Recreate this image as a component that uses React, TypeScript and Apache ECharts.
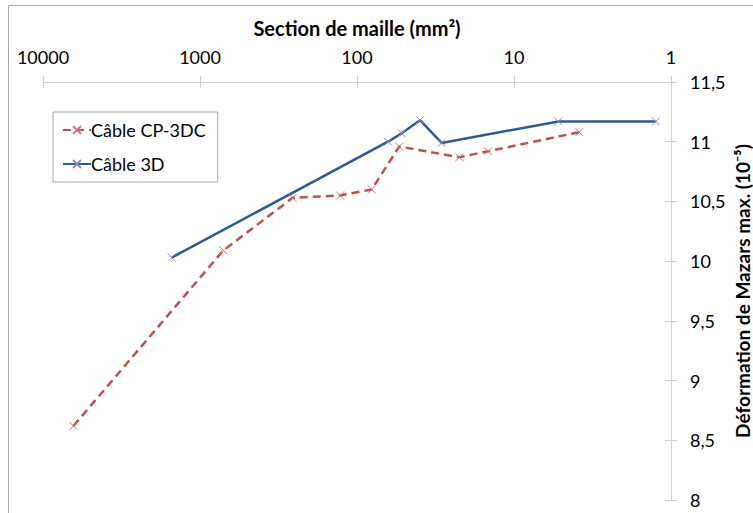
import React, { useEffect, useRef } from "react";
import * as echarts from "echarts";

const xTickLabels = ["10000", "1000", "100", "10", "1"];
const yTicks = [8, 8.5, 9, 9.5, 10, 10.5, 11, 11.5];

const xTitle = "Section de maille (mm²)";
const yTitle = "Déformation de Mazars max. (10⁻⁵)";
const seriesNames = ["Câble CP-3DC", "Câble 3D"];
const cp3dcX = [6400, 710, 257, 128, 80.6, 53.8, 22.3, 14.6, 3.84];
const cp3dcY = [8.62, 10.09, 10.53, 10.55, 10.6, 10.96, 10.87, 10.92, 11.08];
const c3dX = [1514, 63.5, 51.9, 39.7, 28.9, 5.22, 1.25];
const c3dY = [10.03, 11.0, 11.07, 11.18, 10.99, 11.17, 11.17];

const FONT = "Lato";
const X_SYMBOL = "path://M0,0L10,10M10,0L0,10";

export default function App() {
  const ref = useRef<HTMLDivElement>(null);
  useEffect(() => {
    document.body.style.margin = "0";
    const chart = echarts.init(ref.current!, undefined, { renderer: "svg" });
    const axisCommonX = {
      type: "log" as const,
      logBase: 10,
      min: 1,
      max: 10000,
      inverse: true,
      position: "top" as const,
      splitLine: { show: false },
      minorTick: { show: false },
    };
    const axisCommonY = {
      type: "value" as const,
      min: yTicks[0],
      max: yTicks[yTicks.length - 1],
      interval: 0.5,
      position: "right" as const,
      splitLine: { show: false },
    };
    chart.setOption({
      animation: false,
      backgroundColor: "#ffffff",
      textStyle: { fontFamily: FONT },
      graphic: [
        { type: "line", shape: { x1: 8.5, y1: 5.5, x2: 753, y2: 5.5 }, style: { stroke: "#a6a6a6", lineWidth: 1 } },
        { type: "line", shape: { x1: 8.5, y1: 5.5, x2: 8.5, y2: 513 }, style: { stroke: "#a6a6a6", lineWidth: 1 } },
        {
          type: "text",
          x: 742,
          y: 291,
          rotation: Math.PI / 2,
          style: {
            text: yTitle,
            fontFamily: FONT,
            fontSize: 19,
            fontWeight: "bold",
            fill: "#000",
            align: "center",
            verticalAlign: "middle",
          },
        },
      ],
      grid: { left: 43, right: 82, top: 82, bottom: 13, containLabel: false, outerBoundsMode: "none" },
      xAxis: [
        {
          ...axisCommonX,
          name: xTitle,
          nameLocation: "middle",
          nameGap: 44,
          nameTextStyle: { fontFamily: FONT, fontSize: 20, fontWeight: "bold", color: "#000" },
          axisLine: { show: true, lineStyle: { color: "#d0d0d0", width: 1 } },
          axisTick: { show: true, inside: false, length: 6, lineStyle: { color: "#d0d0d0" } },
          axisLabel: {
            show: true,
            margin: 16,
            fontFamily: FONT,
            fontSize: 18,
            color: "#000",
            formatter: (v: number) => {
              const idx = [10000, 1000, 100, 10, 1].findIndex((t) => Math.abs(t - v) < 1e-6 * t);
              return idx >= 0 ? xTickLabels[idx] : "";
            },
          },
        },
        {
          ...axisCommonX,
          axisLine: { show: false },
          axisTick: { show: true, inside: true, length: 6, lineStyle: { color: "#d0d0d0" } },
          axisLabel: { show: false },
        },
      ],
      yAxis: [
        {
          ...axisCommonY,
          axisLine: { show: true, lineStyle: { color: "#d0d0d0", width: 1 } },
          axisTick: { show: true, inside: false, length: 6, lineStyle: { color: "#d0d0d0" } },
          axisLabel: {
            margin: 19,
            fontFamily: FONT,
            fontSize: 18,
            color: "#000",
            formatter: (v: number) => String(v).replace(".", ","),
          },
        },
        {
          ...axisCommonY,
          axisLine: { show: false },
          axisTick: { show: true, inside: true, length: 6, lineStyle: { color: "#d0d0d0" } },
          axisLabel: { show: false },
        },
      ],
      legend: {
        show: true,
        orient: "vertical",
        left: 53,
        top: 112,
        padding: [9, 12, 9, 9],
        itemGap: 16,
        itemWidth: 28,
        itemHeight: 10,
        borderColor: "#a6a6a6",
        borderWidth: 1,
        backgroundColor: "#fff",
        textStyle: { fontFamily: FONT, fontSize: 18, color: "#000", padding: [0, 0, 0, -5] },
        data: seriesNames,
      },
      series: [
        {
          name: seriesNames[0],
          type: "line",
          xAxisIndex: 0,
          yAxisIndex: 0,
          data: cp3dcX.map((x, i) => [x, cp3dcY[i]]),
          symbol: X_SYMBOL,
          symbolSize: 8,
          showAllSymbol: true,
          lineStyle: { color: "#c0504d", width: 2.5, type: [8, 5] },
          itemStyle: { color: "rgba(0,0,0,0)", borderColor: "#d07a78", borderWidth: 1 },
        },
        {
          name: seriesNames[1],
          type: "line",
          xAxisIndex: 0,
          yAxisIndex: 0,
          data: c3dX.map((x, i) => [x, c3dY[i]]),
          symbol: X_SYMBOL,
          symbolSize: 8,
          showAllSymbol: true,
          lineStyle: { color: "#2c5a95", width: 2.5 },
          itemStyle: { color: "rgba(0,0,0,0)", borderColor: "#9a86c4", borderWidth: 1 },
        },
      ],
    });
    return () => chart.dispose();
  }, []);
  return <div ref={ref} style={{ width: 753, height: 513 }} />;
}
